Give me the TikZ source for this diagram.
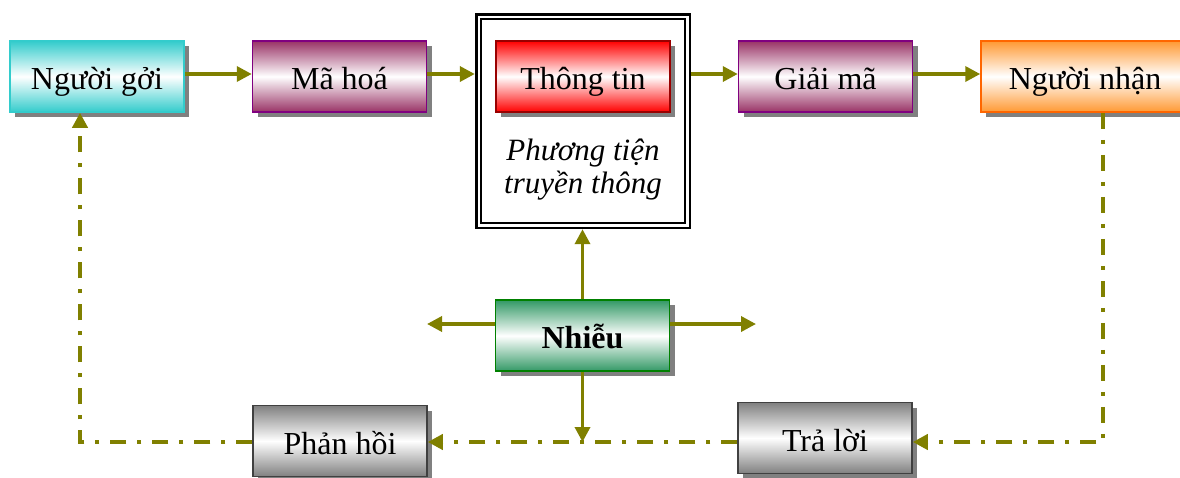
\documentclass[tikz,border=0pt]{standalone}
\usepackage{fontspec}
\setmainfont{Liberation Serif}
\usetikzlibrary{arrows.meta,shadows,calc}

\definecolor{arrowc}{HTML}{808000}
\definecolor{cyanfill}{HTML}{33CCCC}
\definecolor{plumfill}{HTML}{993366}
\definecolor{plumline}{HTML}{800080}
\definecolor{redfill}{HTML}{FF0000}
\definecolor{redline}{HTML}{990000}
\definecolor{orangefill}{HTML}{FF9933}
\definecolor{orangeline}{HTML}{FF6600}
\definecolor{greenfill}{HTML}{339966}
\definecolor{greenline}{HTML}{008000}
\definecolor{grayfill}{HTML}{808080}
\definecolor{grayline}{HTML}{404040}

\begin{document}
\begin{tikzpicture}[x=1pt,y=-1pt,
  box/.style={line width=1.5pt, minimum width=174pt, minimum height=71pt,
    inner sep=0pt, text height=26pt, text depth=0pt,
    font=\fontsize{32}{36}\selectfont,
    drop shadow={shadow xshift=5pt, shadow yshift=-5pt, fill=black!50, opacity=1}},
  grad/.style 2 args={box, draw=#1, top color=#2, bottom color=#2, middle color=white},
  flow/.style={draw=arrowc, line width=3.5pt, -{Triangle[length=15pt,width=15pt]}},
  back/.style={draw=arrowc, line width=4pt, dash pattern=on 16pt off 11pt on 4pt off 11pt},
  backarrow/.style={back, -{Triangle[length=15pt,width=15pt]}},
  label/.style={font=\fontsize{31}{33}\selectfont\itshape, align=center}]

\clip (0,0) rectangle (1180,477);

% top row
\node[grad={cyanfill}{cyanfill}] (ng) at (97,76.5) {Người gởi};
\node[grad={plumline}{plumfill}] (mh) at (339.5,76.5) {Mã hoá};
\node[grad={plumline}{plumfill}] (gm) at (825.5,76.5) {Giải mã};
\node[grad={orangeline}{orangefill}, minimum width=208pt] (nn) at (1085,76.5) {Người nhận};

% medium frame with the message inside
\node[minimum width=216pt, minimum height=216pt, inner sep=0pt] (med) at (583,121) {};
\draw[line width=2.7pt] ($(med.north west)+(1.35,1.35)$) rectangle ($(med.south east)+(-1.35,-1.35)$);
\draw[line width=2pt] ($(med.north west)+(6.5,6.5)$) rectangle ($(med.south east)+(-6.5,-6.5)$);
\node[grad={redline}{redfill}] (tt) at (583,76.5) {Thông tin};
\node[label] (pt) at (583,170) {Phương tiện\\truyền thông};

% noise
\node[grad={greenline}{greenfill}, font=\fontsize{32}{36}\selectfont\bfseries] (nz) at (582.5,335.7) {Nhiễu};

% bottom row
\node[grad={grayline}{grayfill}] (ph) at (340,441) {Phản hồi};
\node[grad={grayline}{grayfill}] (tl) at (825,438) {Trả lời};

% helper coordinates
\coordinate (nl) at (427,324);
\coordinate (nr) at (756,324);
\coordinate (c1) at (1103,442);
\coordinate (c2) at (80,442);

% forward flow
\draw[flow] ([yshift=2.5pt]ng.east) -- ([yshift=2.5pt]mh.west);
\draw[flow] ([yshift=2.5pt]mh.east) -- ([yshift=2.5pt]mh.east -| med.west);
\draw[flow] ([yshift=2.5pt]gm.west -| med.east) -- ([yshift=2.5pt]gm.west);
\draw[flow] ([yshift=2.5pt]gm.east) -- ([yshift=2.5pt]nn.west);

% noise arrows
\draw[flow] (nz.north) -- (nz.north |- med.south);
\draw[flow] (nz.west |- nl) -- (nl);
\draw[flow] (nz.east |- nr) -- (nr);
\draw[flow] (nz.south) -- (nz.south |- c1);

% feedback loop
\draw[backarrow] (nn.south -| c1) -- (c1) -- (tl.east |- c1);
\draw[backarrow] (tl.west |- c1) -- (ph.east |- c1);
\draw[backarrow] (ph.west |- c2) -- (c2) -- (ng.south -| c2);
\end{tikzpicture}
\end{document}
